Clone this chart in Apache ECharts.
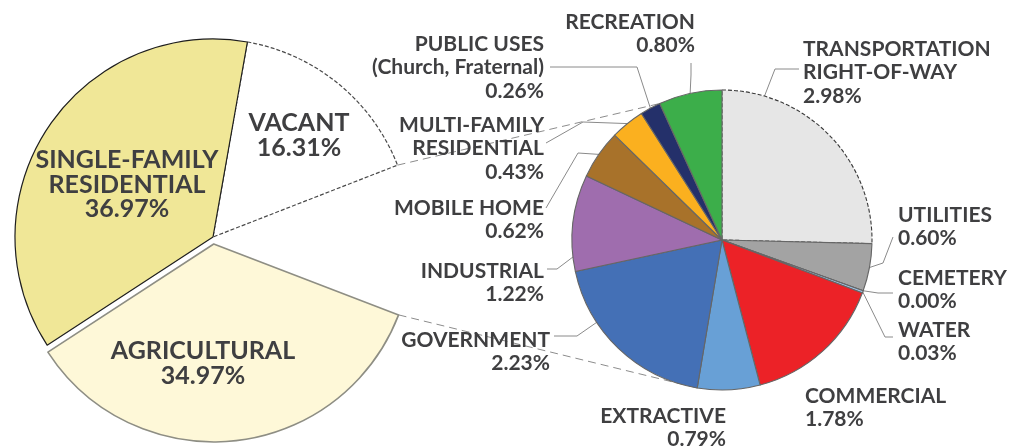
<!DOCTYPE html>
<html>
<head>
<meta charset="utf-8">
<script src="https://cdn.jsdelivr.net/npm/echarts@6/dist/echarts.min.js"></script>
<style>
html, body { margin: 0; padding: 0; background: #fff; }
#chart { width: 1019px; height: 448px; }
</style>
</head>
<body>
<div id="chart"></div>
<script>
// 主饼图（总用地）
var mainNames = ['VACANT', 'AGRICULTURAL', 'SINGLE-FAMILY\nRESIDENTIAL'];
var mainValues = [16.31, 34.97, 36.97];

// 子饼图（其余用地，顺时针自顶部开始）
var detailNames = [
    'TRANSPORTATION\nRIGHT-OF-WAY', 'UTILITIES', 'CEMETERY', 'WATER', 'COMMERCIAL',
    'EXTRACTIVE', 'GOVERNMENT', 'INDUSTRIAL', 'MOBILE HOME', 'MULTI-FAMILY\nRESIDENTIAL',
    'PUBLIC USES\n(Church, Fraternal)', 'RECREATION'
];
var detailValues = [2.98, 0.60, 0.00, 0.03, 1.78, 0.79, 2.23, 1.22, 0.62, 0.43, 0.26, 0.80];

var detailColors = ['#e6e6e6', '#a3a3a3', '#8c8c8c', '#9fc3e6', '#ec2227', '#68a0d6',
    '#4470b6', '#9f6dae', '#a8722a', '#fbb01f', '#24306a', '#3cae4a'];

var TEXT = '#3f3f41';
var FONT = 'Lato';

// 几何
var L = { cx: 213, cy: 237, r: 198, start: 80, offset: 7 };
var R = { cx: 722, cy: 240, r: 150, start: 90 };

var otherValue = detailValues.reduce(function (a, b) { return a + b; }, 0);

// 标签位置（与 mainData 顺序一致）
var mainLabelSpots = [
    { x: 299, y: 111 },
    null,
    { x: 203, y: 339 },
    { x: 127, y: 148 }
];

var detailLabelSpots = [
    { x: 803, y: 37, align: 'left', at: 0.18, line: [[775, 69], [799, 69]] },
    { x: 898, y: 203, align: 'left', line: [[883, 263], [893, 237]] },
    { x: 898, y: 266, align: 'left', line: [[878, 293], [893, 293]] },
    { x: 898, y: 318, align: 'left', line: [[885, 337], [893, 337]] },
    { x: 805, y: 384, align: 'left' },
    { x: 726, y: 404, align: 'right' },
    { x: 550, y: 328, align: 'right', at: 0.69, line: [[577, 336], [554, 336]] },
    { x: 544, y: 259, align: 'right', at: 0.15, line: [[557, 269], [547, 269]] },
    { x: 544, y: 196, align: 'right', line: [[578, 153], [546, 208]] },
    { x: 544, y: 113, align: 'right', line: [[583, 122], [546, 143]] },
    { x: 544, y: 32, align: 'right', line: [[637, 67], [550, 67]] },
    { x: 695, y: 10, align: 'right', line: [[691, 75], [691, 63]] }
];

function pctLabel(p) {
    return p.name + '\n' + Number(p.value).toFixed(2) + '%';
}

// 子饼图某扇区边缘上的点（at: 扇区内的比例）
function detailPoint(idx, at) {
    var cum = 0;
    for (var i = 0; i < idx; i++) cum += detailValues[i];
    var frac = (cum + detailValues[idx] * at) / otherValue;
    var a = (R.start - 360 * frac) * Math.PI / 180;
    return [R.cx + R.r * Math.cos(a), R.cy - R.r * Math.sin(a)];
}

function rad(d) { return d * Math.PI / 180; }

// 主饼图中“其余”扇区两侧的端点
var mainTotal = mainValues.reduce(function (a, b) { return a + b; }, 0) + otherValue;
var otherStart = L.start - 360 * mainValues[0] / mainTotal;
var otherEnd = otherStart - 360 * otherValue / mainTotal;
var agriMid = otherEnd - 180 * mainValues[1] / mainTotal;
// 农业扇区外移
var agriCenter = [L.cx + L.offset * Math.cos(rad(agriMid)), L.cy - L.offset * Math.sin(rad(agriMid))];

var upperFrom = [L.cx + L.r * Math.cos(rad(otherStart)), L.cy - L.r * Math.sin(rad(otherStart))];
var lowerFrom = [agriCenter[0] + L.r * Math.cos(rad(otherEnd)), agriCenter[1] - L.r * Math.sin(rad(otherEnd))];
var upperTo = detailPoint(11, 0);
var lowerTo = detailPoint(6, 0);

var mainStyles = [
    { color: '#ffffff', borderColor: '#4a4a4a', borderWidth: 1.2, borderType: [4, 2] },
    { color: '#fef8d8', borderColor: '#8e8e84', borderWidth: 1.6 },
    { color: '#f0e797', borderColor: '#1e1e1e', borderWidth: 1.2 }
];

var HIDDEN = { color: 'rgba(0,0,0,0)', borderWidth: 0 };

// keep: 该系列中需要画出的项
function buildMain(keep) {
    var out = [];
    mainNames.forEach(function (n, i) {
        var shown = keep(n);
        out.push({
            name: n,
            value: mainValues[i],
            itemStyle: shown ? mainStyles[i] : HIDDEN,
            label: { show: shown }
        });
        if (i === 0) {
            out.push({ name: 'OTHER', value: otherValue, itemStyle: HIDDEN, label: { show: false } });
        }
    });
    return out;
}

var detailData = detailNames.map(function (n, i) {
    var item = {
        name: n,
        value: detailValues[i],
        itemStyle: { color: detailColors[i] }
    };
    if (i === 0) {
        item.itemStyle.borderType = [4, 2];
        item.itemStyle.borderColor = '#3a3a3a';
    }
    if (!detailLabelSpots[i].line) item.labelLine = { show: false };
    return item;
});

var labelText = {
    color: TEXT,
    fontFamily: FONT,
    fontWeight: 'bold'
};

function mainSeries(center, keep) {
    return {
        type: 'pie',
        center: center,
        radius: [0, L.r],
        startAngle: L.start,
        clockwise: true,
        avoidLabelOverlap: false,
        emphasis: { disabled: true },
        label: Object.assign({
            position: 'inside',
            fontSize: 25,
            lineHeight: 24.5,
            formatter: pctLabel
        }, labelText),
        labelLine: { show: false },
        labelLayout: function (p) {
            var s = mainLabelSpots[p.dataIndex];
            if (!s) return {};
            return { x: s.x, y: s.y, align: 'center', verticalAlign: 'top' };
        },
        data: buildMain(keep)
    };
}

var option = {
    animation: false,
    graphic: [
        {
            type: 'line', z: 1,
            shape: { x1: upperFrom[0], y1: upperFrom[1], x2: upperTo[0], y2: upperTo[1] },
            style: { stroke: '#8c8c8c', lineWidth: 1, lineDash: [8, 5] }
        },
        {
            type: 'line', z: 1,
            shape: { x1: lowerFrom[0], y1: lowerFrom[1], x2: lowerTo[0], y2: lowerTo[1] },
            style: { stroke: '#8c8c8c', lineWidth: 1, lineDash: [8, 5] }
        }
    ],
    series: [
        mainSeries([L.cx, L.cy], function (n) { return n !== 'AGRICULTURAL'; }),
        mainSeries(agriCenter, function (n) { return n === 'AGRICULTURAL'; }),
        {
            type: 'pie',
            center: [R.cx, R.cy],
            radius: [0, R.r],
            startAngle: R.start,
            clockwise: true,
            avoidLabelOverlap: false,
            emphasis: { disabled: true },
            itemStyle: { borderColor: '#666666', borderWidth: 1.1 },
            label: Object.assign({
                show: true,
                position: 'outside',
                fontSize: 21,
                lineHeight: 23.5,
                formatter: pctLabel
            }, labelText),
            labelLine: { show: true, lineStyle: { color: '#8a8a8a', width: 1 } },
            labelLayout: function (p) {
                var s = detailLabelSpots[p.dataIndex];
                var out = { x: s.x, y: s.y, align: s.align, verticalAlign: 'top' };
                if (s.line) {
                    var start = detailPoint(p.dataIndex, s.at == null ? 0.5 : s.at);
                    out.labelLinePoints = [start].concat(s.line);
                }
                return out;
            },
            data: detailData
        }
    ]
};

var chart = echarts.init(document.getElementById('chart'), null, { renderer: 'canvas' });
chart.setOption(option);
</script>
</body>
</html>
